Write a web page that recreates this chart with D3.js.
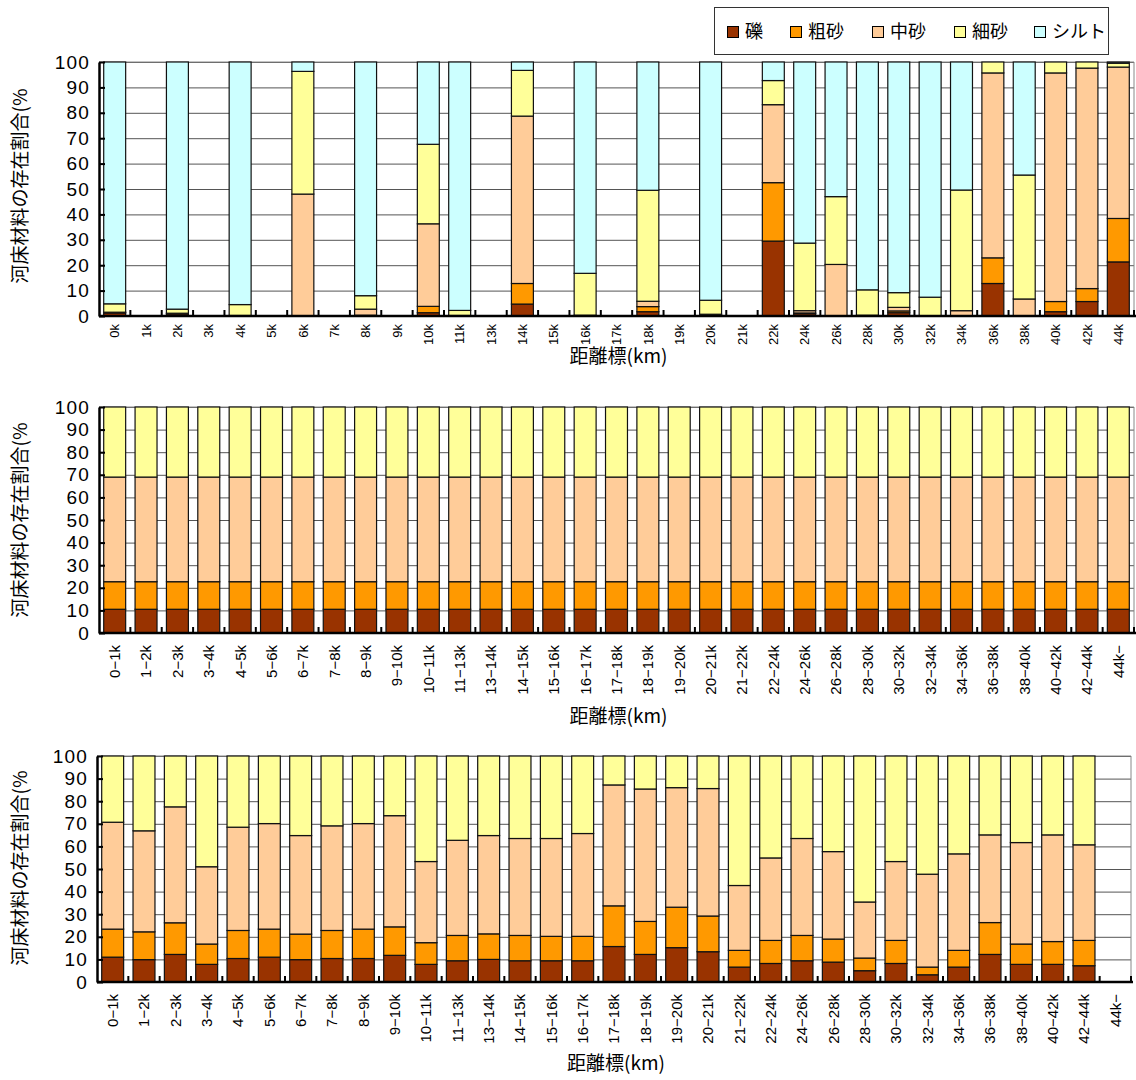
<!DOCTYPE html>
<html>
<head>
<meta charset="utf-8">
<script src="https://cdn.jsdelivr.net/npm/d3@7/dist/d3.min.js"></script>
<style>
  html, body { margin: 0; padding: 0; background: #fff; }
  svg { display: block; }
  text { font-family: "Liberation Sans", Arial, "Noto Sans CJK JP", sans-serif; fill: #000; }
  .jp { font-family: "Noto Sans CJK JP", "Liberation Sans", sans-serif; }
</style>
</head>
<body>
<svg id="chart" width="1136" height="1080"></svg>
<script>
// Bed material composition (%) by grain class
const seriesNames = ["礫", "粗砂", "中砂", "細砂", "シルト"];
const seriesColors = ["#993300", "#FF9900", "#FFCC99", "#FFFF99", "#CCFFFF"];
const yTicks = [0, 10, 20, 30, 40, 50, 60, 70, 80, 90, 100];

// Panel 1: surveyed points
const pointCategories = ["0k","1k","2k","3k","4k","5k","6k","7k","8k","9k","10k","11k","13k","14k","15k","16k","17k","18k","19k","20k","21k","22k","24k","26k","28k","30k","32k","34k","36k","38k","40k","42k","44k"];
const pointGravel = [1.2,null,0.8,null,0,null,0,null,0,null,1.3,0,null,4.7,null,0,null,1.7,null,0.4,null,29.5,0.9,0,0,1.3,0,0,12.8,0,1.7,5.7,21.3];
const pointCoarse = [0,null,0,null,0,null,0,null,0.3,null,2.5,0,null,8.1,null,0,null,2.0,null,0,null,23.0,0.3,0,0,0.7,0,0,10.1,0,4.0,5.1,17.1];
const pointMedium = [0.3,null,0.3,null,0.2,null,48.0,null,2.4,null,32.5,0.2,null,65.9,null,0.3,null,2.1,null,0.3,null,30.7,0.9,20.3,0.3,1.4,0,2.1,72.8,6.7,90.0,86.8,59.6];
const pointFine = [3.3,null,1.6,null,4.3,null,48.3,null,5.3,null,31.3,2.0,null,18.0,null,16.5,null,43.7,null,5.5,null,9.5,26.6,26.7,10.0,5.8,7.4,47.5,4.3,48.8,4.3,2.4,1.5];
const pointSilt = [95.2,null,97.3,null,95.5,null,3.7,null,92.0,null,32.4,97.8,null,3.3,null,83.2,null,50.5,null,93.8,null,7.3,71.3,53.0,89.7,90.8,92.6,50.4,0,44.5,0,0,0.5];

// Panels 2 and 3: reaches
const reachCategories = ["0−1k","1−2k","2−3k","3−4k","4−5k","5−6k","6−7k","7−8k","8−9k","9−10k","10−11k","11−13k","13−14k","14−15k","15−16k","16−17k","17−18k","18−19k","19−20k","20−21k","21−22k","22−24k","24−26k","26−28k","28−30k","30−32k","32−34k","34−36k","36−38k","38−40k","40−42k","42−44k","44k−"];

// Panel 2: initial (uniform) composition
const initGravel = Array(33).fill(10.5);
const initCoarse = Array(33).fill(12.2);
const initMedium = Array(33).fill(46.3);
const initFine = Array(33).fill(31.0);
const initSilt = Array(33).fill(0);

// Panel 3: computed composition
const calcGravel = [11.0,9.9,12.2,7.8,10.4,11.0,9.9,10.4,10.4,11.8,7.8,9.4,10.0,9.4,9.4,9.4,15.7,12.2,15.2,13.4,6.6,8.2,9.4,8.8,5.0,8.2,3.2,6.6,12.2,7.8,7.8,7.2,null];
const calcCoarse = [12.4,12.3,14.0,9.0,12.4,12.4,11.3,12.4,13.0,12.6,9.6,11.2,11.3,11.2,10.8,10.8,18.0,14.6,17.9,15.8,7.4,10.2,11.2,10.2,5.6,10.2,3.4,7.4,14.1,9.0,10.1,11.2,null];
const calcMedium = [47.3,44.7,51.3,34.2,45.7,46.7,43.6,46.3,46.7,49.2,35.9,42.1,43.5,42.9,43.3,45.5,53.5,58.6,52.9,56.4,28.7,36.5,42.9,38.7,24.8,34.9,41.1,42.7,38.8,44.9,47.2,42.3,null];
const calcFine = [29.3,33.1,22.5,49.0,31.5,29.9,35.2,30.9,29.9,26.4,46.7,37.3,35.2,36.5,36.5,34.3,12.8,14.6,14.0,14.4,57.3,45.1,36.5,42.3,64.6,46.7,52.3,43.3,34.9,38.3,34.9,39.3,null];
const calcSilt = [0,0,0,0,0,0,0,0,0,0,0,0,0,0,0,0,0,0,0,0,0,0,0,0,0,0,0,0,0,0,0,0,null];

const svg = d3.select("#chart");

function drawPanel(cfg) {
  const { categories, series, left, right, top, bottom, titleY, yTitleCenter, labelGap, labelSize } = cfg;
  const g = svg.append("g");

  const x = d3.scaleBand().domain(categories).range([left, right])
    .paddingInner(0.3).paddingOuter(0.15);
  const y = d3.scaleLinear().domain([0, 100]).range([bottom, top]);

  // rows for the stack; categories with no data are left out
  const rows = categories.map((c, i) => {
    const r = { cat: c, has: series[0][i] !== null };
    seriesNames.forEach((s, k) => { r[s] = series[k][i] || 0; });
    return r;
  }).filter(r => r.has);
  const stacked = d3.stack().keys(seriesNames)(rows);

  // horizontal gridlines
  g.append("g")
    .attr("transform", `translate(${left},0)`)
    .call(d3.axisLeft(y).tickValues(yTicks).tickSize(-(right - left)).tickFormat(""))
    .call(a => a.select(".domain").remove())
    .call(a => a.selectAll("line").attr("stroke", "#555").attr("stroke-width", 1));

  // plot border (top, right)
  g.append("path")
    .attr("d", `M${left},${top}H${right}V${bottom}`)
    .attr("fill", "none").attr("stroke", "#888").attr("stroke-width", 1);

  // stacked bars
  g.append("g").selectAll("g").data(stacked).join("g")
    .attr("fill", (d, i) => seriesColors[i])
    .selectAll("rect").data(d => d.filter(p => p[1] - p[0] > 0)).join("rect")
    .attr("x", d => x(d.data.cat))
    .attr("width", x.bandwidth())
    .attr("y", d => y(d[1]))
    .attr("height", d => y(d[0]) - y(d[1]))
    .attr("stroke", "#111").attr("stroke-width", 1.2);

  // y axis with inside ticks
  g.append("g")
    .attr("transform", `translate(${left},0)`)
    .call(d3.axisLeft(y).tickValues(yTicks).tickSize(-6).tickSizeOuter(0).tickPadding(10))
    .call(a => a.select(".domain").attr("stroke", "#000").attr("stroke-width", 2.5))
    .call(a => a.selectAll("line").attr("stroke", "#000").attr("stroke-width", 2))
    .call(a => a.selectAll("text").attr("x", -9).style("font-size", "19px")
      .style("letter-spacing", "1.2px").style("text-anchor", "end"));

  // x axis: line, inside ticks at category boundaries, rotated labels
  const xAxis = g.append("g").attr("transform", `translate(0,${bottom})`)
    .call(d3.axisBottom(x).tickSize(0).tickSizeOuter(0).tickPadding(0));
  xAxis.select(".domain").attr("stroke", "#000").attr("stroke-width", 2.5)
    .attr("d", `M${left},0H${right + 2}`);
  xAxis.selectAll("text")
    .attr("transform", "rotate(-90)")
    .attr("x", -labelGap).attr("y", 0).attr("dy", "0.36em")
    .style("text-anchor", "end").style("font-size", labelSize + "px");
  const step = x.step();
  const bounds = d3.range(1, categories.length + 1).map(i => x.range()[0] + i * step);
  xAxis.selectAll(".bound").data(bounds).join("line").attr("class", "bound")
    .attr("x1", d => d).attr("x2", d => d).attr("y1", 0).attr("y2", -6)
    .attr("stroke", "#000").attr("stroke-width", 2);

  // axis titles
  g.append("text").attr("class", "jp")
    .attr("x", (left + right) / 2 + 2).attr("y", titleY)
    .attr("text-anchor", "middle").style("font-size", "19px")
    .text("距離標(km)");
  g.append("text").attr("class", "jp")
    .attr("transform", `translate(27,${yTitleCenter}) rotate(-90)`)
    .attr("text-anchor", "middle").style("font-size", "19px")
    .text("河床材料の存在割合(%");
}

drawPanel({
  categories: pointCategories,
  series: [pointGravel, pointCoarse, pointMedium, pointFine, pointSilt],
  left: 99, right: 1134, top: 62, bottom: 316, titleY: 363, yTitleCenter: 186,
  labelGap: 8, labelSize: 13
});
drawPanel({
  categories: reachCategories,
  series: [initGravel, initCoarse, initMedium, initFine, initSilt],
  left: 99, right: 1134, top: 407, bottom: 633, titleY: 723, yTitleCenter: 520,
  labelGap: 12, labelSize: 15
});
drawPanel({
  categories: reachCategories,
  series: [calcGravel, calcCoarse, calcMedium, calcFine, calcSilt],
  left: 97, right: 1131, top: 756, bottom: 982, titleY: 1070, yTitleCenter: 868,
  labelGap: 12, labelSize: 15
});

// legend
const legend = svg.append("g");
legend.append("rect").attr("x", 714.5).attr("y", 7.5).attr("width", 394).attr("height", 47)
  .attr("fill", "#fff").attr("stroke", "#333").attr("stroke-width", 1);
const legendX = [727, 790, 872, 954, 1034];
seriesNames.forEach((s, i) => {
  legend.append("rect").attr("x", legendX[i] + 0.5).attr("y", 26.5).attr("width", 11).attr("height", 11)
    .attr("fill", seriesColors[i]).attr("stroke", "#000").attr("stroke-width", 1);
  legend.append("text").attr("class", "jp")
    .attr("x", legendX[i] + 18).attr("y", 32).attr("dy", "0.35em")
    .style("font-size", "18px").text(s);
});
</script>
</body>
</html>
